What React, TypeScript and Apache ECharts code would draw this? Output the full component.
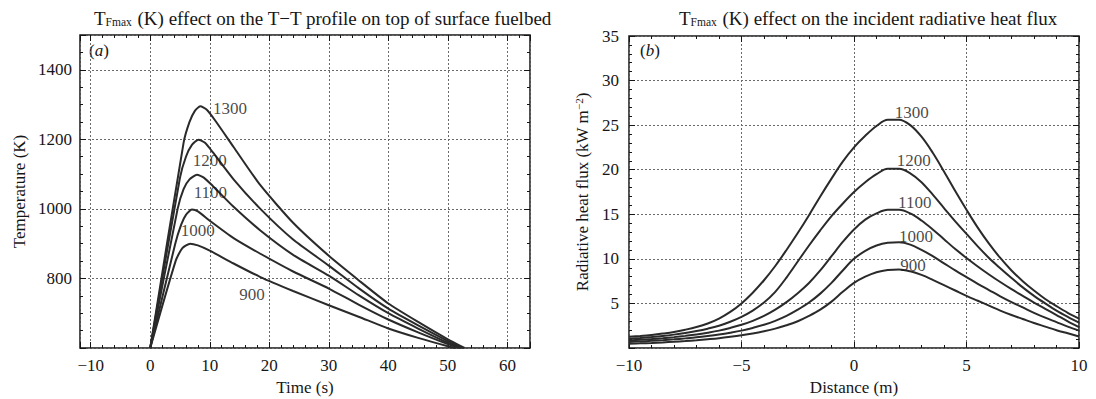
import React, { useEffect, useRef } from 'react';
import * as echarts from 'echarts';

// ---------- Data: panel (a) temperature-time profiles ----------
const tempLevels = ['1300', '1200', '1100', '1000', '900'];

const tt1300 = [[0, 600], [5.6, 1190], [6.6, 1250], [7.5, 1282], [8.4, 1295], [9.5, 1285], [11, 1252], [14, 1178], [18.5, 1068], [24, 960], [30, 865], [35, 795], [40, 728], [45, 675], [50, 625], [52.8, 600]];
const tt1200 = [[0, 600], [5.0, 1090], [6.0, 1150], [7.0, 1184], [8.1, 1199], [9.2, 1190], [10.5, 1163], [14, 1085], [18.5, 1000], [24, 912], [30, 837], [35, 772], [40, 713], [45, 665], [50, 620], [52.5, 600]];
const tt1100 = [[0, 600], [4.6, 1000], [5.6, 1057], [6.6, 1085], [7.85, 1098], [9, 1090], [10.5, 1066], [14, 1006], [18.5, 938], [24, 868], [30, 808], [35, 752], [40, 700], [45, 656], [50, 615], [52.2, 600]];
const tt1000 = [[0, 600], [4.2, 900], [5.2, 955], [6.0, 983], [7, 998], [8, 993], [10, 966], [14, 916], [18.5, 871], [24, 820], [30, 771], [35, 725], [40, 682], [45, 645], [50, 611], [51.8, 600]];
const tt900 = [[0, 600], [4.3, 852], [5.4, 887], [6.7, 900], [8, 895], [10, 880], [14, 843], [18.5, 804], [24, 764], [30, 723], [35, 690], [40, 656], [45, 629], [50, 605], [51.3, 600]];
const timeSeries = [tt1300, tt1200, tt1100, tt1000, tt900];

// label anchors (data coordinates) for panel (a)
const timeLabelAnchors = [[13.4, 1290], [10.0, 1140], [10.1, 1047], [8.0, 937], [17.1, 755]];

// ---------- Data: panel (b) radiative heat flux vs distance ----------
const fluxDist = [
  -10, -9.5, -9, -8.5, -8, -7.5, -7, -6.5, -6, -5.5, -5, -4.5, -4, -3.5, -3, -2.5, -2, -1.5, -1, -0.5,
  0, 0.5, 1, 1.5, 2, 2.5, 3, 3.5, 4, 4.5, 5, 5.5, 6, 6.5, 7, 7.5, 8, 8.5, 9, 9.5, 10,
];
const flux1300 = [
  1.25, 1.35, 1.47, 1.62, 1.8, 2.05, 2.35, 2.75, 3.3, 4.05, 5.0, 6.2, 7.6, 9.2, 11.0, 12.9, 14.9, 17.0, 19.0, 20.9,
  22.5, 23.8, 24.9, 25.6, 25.6, 25.0, 23.7, 21.9, 19.8, 17.6, 15.5, 13.5, 11.7, 10.1, 8.7, 7.5, 6.45, 5.5, 4.7, 3.95, 3.3,
];
const flux1200 = [
  1.05, 1.13, 1.23, 1.35, 1.5, 1.68, 1.9, 2.17, 2.5, 2.95, 3.5, 4.2, 5.1, 6.3, 7.9, 9.7, 11.5, 13.2, 14.8, 16.2,
  17.5, 18.6, 19.5, 20.1, 20.1, 19.6, 18.6, 17.2, 15.7, 14.2, 12.8, 11.4, 10.1, 8.95, 7.85, 6.8, 5.85, 5.0, 4.2, 3.5, 2.85,
];
const flux1100 = [
  0.85, 0.92, 1.0, 1.1, 1.22, 1.36, 1.52, 1.72, 1.95, 2.25, 2.6, 3.05, 3.6, 4.3, 5.15, 6.15, 7.3, 8.7, 10.3, 11.9,
  13.3, 14.4, 15.1, 15.5, 15.5, 15.1, 14.3, 13.3, 12.2, 11.1, 10.1, 9.15, 8.25, 7.4, 6.6, 5.85, 5.1, 4.4, 3.7, 3.0, 2.35,
];
const flux1000 = [
  0.68, 0.74, 0.8, 0.88, 0.97, 1.08, 1.2, 1.35, 1.52, 1.72, 1.95, 2.25, 2.6, 3.05, 3.6, 4.3, 5.1, 6.1, 7.3, 8.7,
  10.0, 10.9, 11.5, 11.8, 11.85, 11.6, 11.0, 10.3, 9.5, 8.7, 7.95, 7.2, 6.5, 5.8, 5.15, 4.55, 3.95, 3.4, 2.9, 2.4, 1.95,
];
const flux900 = [
  0.48, 0.52, 0.57, 0.63, 0.7, 0.78, 0.87, 0.98, 1.1, 1.25, 1.42, 1.62, 1.87, 2.17, 2.55, 3.0, 3.6, 4.3, 5.2, 6.3,
  7.3, 8.0, 8.5, 8.75, 8.8, 8.6, 8.2, 7.65, 7.05, 6.45, 5.85, 5.3, 4.75, 4.2, 3.7, 3.25, 2.8, 2.4, 2.0, 1.65, 1.3,
];
const fluxSeries = [flux1300, flux1200, flux1100, flux1000, flux900];

// label anchors (data coordinates) for panel (b)
const fluxLabelAnchors = [[2.57, 26.4], [2.66, 21.0], [2.7, 16.3], [2.75, 12.5], [2.62, 9.3]];

// ---------- Styling ----------
const SERIF = '"Liberation Serif", "Times New Roman", serif';
const INK = '#161616';
const LINE = '#2a2a2a';
const GRIDLINE = '#6a6a6a';
const FS = 17;

const fmtNum = (v: number) => (v < 0 ? '\u2212' + Math.abs(v) : String(v));

const tickStyle = { inside: true, length: 6, lineStyle: { color: INK, width: 1 } };
const minorTickStyle = (n: number) => ({ show: true, splitNumber: n, length: 3, lineStyle: { color: INK, width: 1 } });
const splitStyle = { show: true, lineStyle: { color: GRIDLINE, type: [2, 2] as any, width: 1 } };
const labelStyle = { fontFamily: SERIF, fontSize: FS, color: INK };
const nameStyle = { fontFamily: SERIF, fontSize: FS, color: INK };

const titleRich = {
  m: { fontFamily: SERIF, fontSize: 19, color: INK, fontWeight: 'normal' },
  s: { fontFamily: SERIF, fontSize: 11.5, color: INK, fontWeight: 'normal', padding: [8, 1, 0, 0] },
};

export default function App() {
  const ref = useRef<HTMLDivElement>(null);

  useEffect(() => {
    if (!ref.current) return;
    const chart = echarts.init(ref.current, undefined, { renderer: 'svg' });

    const axisBase = (gridIndex: number, min: number, max: number, extra: any) => ({
      type: 'value',
      gridIndex,
      min,
      max,
      axisLine: { show: false, onZero: false },
      ...extra,
    });

    const option: any = {
      animation: false,
      backgroundColor: '#ffffff',
      title: [
        {
          text: '{m|T}{s|Fmax}{m| (K) effect on the T\u2212T profile on top of surface fuelbed}',
          left: 89,
          top: 3,
          textAlign: 'left',
          textStyle: { fontWeight: 'normal', rich: titleRich },
        },
        {
          text: '{m|T}{s|Fmax}{m| (K) effect on the incident radiative heat flux}',
          left: 674,
          top: 3,
          textAlign: 'left',
          textStyle: { fontWeight: 'normal', rich: titleRich },
        },
      ],
      grid: [
        { left: 80, top: 35, width: 450, height: 313, show: true, borderColor: INK, borderWidth: 1.5, outerBoundsMode: 'none' },
        { left: 629, top: 36, width: 450, height: 312, show: true, borderColor: INK, borderWidth: 1.5, outerBoundsMode: 'none' },
      ],
      xAxis: [
        axisBase(0, -11.8, 63.8, {
          position: 'bottom',
          splitNumber: 8,
          axisTick: tickStyle,
          minorTick: minorTickStyle(5),
          splitLine: splitStyle,
          axisLabel: { ...labelStyle, margin: 9, showMinLabel: false, showMaxLabel: false, formatter: fmtNum },
          name: 'Time (s)',
          nameLocation: 'middle',
          nameGap: 28,
          nameTextStyle: nameStyle,
        }),
        axisBase(0, -11.8, 63.8, {
          position: 'top',
          splitNumber: 8,
          axisTick: tickStyle,
          minorTick: minorTickStyle(5),
          splitLine: { show: false },
          axisLabel: { show: false },
        }),
        axisBase(1, -10, 10, {
          position: 'bottom',
          interval: 5,
          axisTick: tickStyle,
          minorTick: minorTickStyle(5),
          splitLine: splitStyle,
          axisLabel: { ...labelStyle, margin: 9, formatter: fmtNum },
          name: 'Distance (m)',
          nameLocation: 'middle',
          nameGap: 28,
          nameTextStyle: nameStyle,
        }),
        axisBase(1, -10, 10, {
          position: 'top',
          interval: 5,
          axisTick: tickStyle,
          minorTick: minorTickStyle(5),
          splitLine: { show: false },
          axisLabel: { show: false },
        }),
      ],
      yAxis: [
        axisBase(0, 600, 1500, {
          position: 'left',
          interval: 200,
          axisTick: tickStyle,
          minorTick: minorTickStyle(4),
          splitLine: splitStyle,
          axisLabel: { ...labelStyle, margin: 8, showMinLabel: false, showMaxLabel: false, formatter: fmtNum },
          name: 'Temperature (K)',
          nameLocation: 'middle',
          nameGap: 52,
          nameTextStyle: nameStyle,
        }),
        axisBase(0, 600, 1500, {
          position: 'right',
          interval: 200,
          axisTick: tickStyle,
          minorTick: minorTickStyle(4),
          splitLine: { show: false },
          axisLabel: { show: false },
        }),
        axisBase(1, 0, 35, {
          position: 'left',
          interval: 5,
          axisTick: tickStyle,
          minorTick: minorTickStyle(5),
          splitLine: splitStyle,
          axisLabel: { ...labelStyle, margin: 10, showMinLabel: false, formatter: fmtNum },
          name: '{m|Radiative heat flux (kW m}{sup|\u22122}{m|)}',
          nameLocation: 'middle',
          nameGap: 37,
          nameTextStyle: {
            rich: {
              m: { fontFamily: SERIF, fontSize: FS, color: INK },
              sup: { fontFamily: SERIF, fontSize: 11, color: INK, padding: [0, 0, 8, 0] },
            },
          },
        }),
        axisBase(1, 0, 35, {
          position: 'right',
          interval: 5,
          axisTick: tickStyle,
          minorTick: minorTickStyle(5),
          splitLine: { show: false },
          axisLabel: { show: false },
        }),
      ],
      graphic: [
        {
          type: 'text',
          left: 89,
          top: 42,
          style: { text: '({i|a})', font: `${FS}px ${SERIF}`, fill: INK, rich: { i: { fontStyle: 'italic', fontFamily: SERIF, fontSize: FS, fill: INK } } },
        },
        {
          type: 'text',
          left: 640,
          top: 42,
          style: { text: '({i|b})', font: `${FS}px ${SERIF}`, fill: INK, rich: { i: { fontStyle: 'italic', fontFamily: SERIF, fontSize: FS, fill: INK } } },
        },
      ],
      series: [
        ...timeSeries.map((d, i) => ({
          type: 'line',
          name: 'a' + tempLevels[i],
          xAxisIndex: 0,
          yAxisIndex: 0,
          data: d,
          showSymbol: false,
          smooth: 0.2,
          lineStyle: { color: LINE, width: 2 },
          silent: true,
          z: 3,
        })),
        {
          type: 'scatter',
          xAxisIndex: 0,
          yAxisIndex: 0,
          symbolSize: 0,
          silent: true,
          data: timeLabelAnchors.map((p, i) => [p[0], p[1], tempLevels[i]]),
          label: { show: true, position: 'inside', formatter: (p: any) => p.data[2], fontFamily: SERIF, fontSize: FS, color: INK },
          z: 5,
        },
        ...fluxSeries.map((vals, i) => ({
          type: 'line',
          name: 'b' + tempLevels[i],
          xAxisIndex: 2,
          yAxisIndex: 2,
          data: vals.map((v, j) => [fluxDist[j], v]),
          showSymbol: false,
          smooth: 0.35,
          lineStyle: { color: LINE, width: 2 },
          silent: true,
          z: 3,
        })),
        {
          type: 'scatter',
          xAxisIndex: 2,
          yAxisIndex: 2,
          symbolSize: 0,
          silent: true,
          data: fluxLabelAnchors.map((p, i) => [p[0], p[1], tempLevels[i]]),
          label: { show: true, position: 'inside', formatter: (p: any) => p.data[2], fontFamily: SERIF, fontSize: FS, color: INK },
          z: 5,
        },
      ],
    };

    chart.setOption(option);
    return () => chart.dispose();
  }, []);

  return (
    <div
      ref={ref}
      style={{ position: 'absolute', left: 0, top: 0, width: 1096, height: 399, background: '#fff' }}
    />
  );
}
